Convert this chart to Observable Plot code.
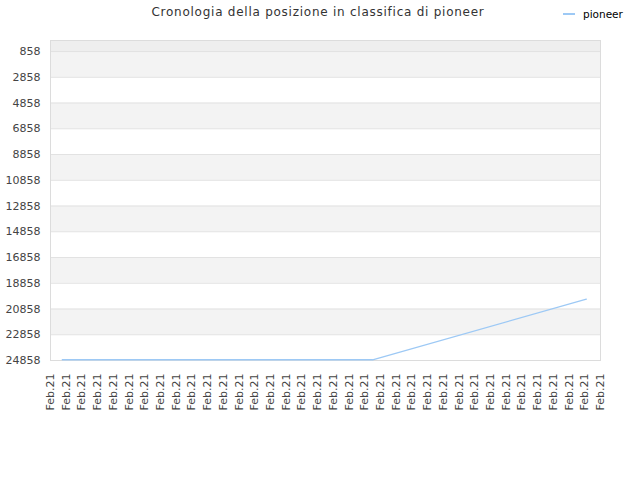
<!DOCTYPE html>
<html><head><meta charset="utf-8">
<script src="https://cdn.jsdelivr.net/npm/d3@7"></script>
<script src="https://cdn.jsdelivr.net/npm/@observablehq/plot@0.6"></script>
<style>
body{margin:0;background:#fff;font-family:"DejaVu Sans",sans-serif}
#wrap{position:relative;width:640px;height:480px}
#title{position:absolute;top:5px;left:0;width:636px;text-align:center;font-size:12px;color:#333;letter-spacing:0.75px}
#legend{position:absolute;top:8px;left:563px;font-size:10.5px;color:#000;display:flex;align-items:center}
#legend .sw{display:inline-block;width:12px;height:2px;margin-right:8px}
#chart{position:absolute;top:0;left:0}
</style></head><body>
<div id="wrap"><div id="chart"></div><div id="title"></div><div id="legend"></div></div>
<script>
const titleText = "Cronologia della posizione in classifica di pioneer";
const seriesName = "pioneer";
const seriesColor = "#9dc9f5";
// x positions (tick index units) and rank values
const dayIndex = [0.75, 20.5, 34.1];
const rank = [24800, 24800, 20100];
const xTicks = [0,1,2,3,4,5,6,7,8,9,10,11,12,13,14,15,16,17,18,19,20,21,22,23,24,25,26,27,28,29,30,31,32,33,34,35];
const xTickLabels = ["Feb.21","Feb.21","Feb.21","Feb.21","Feb.21","Feb.21","Feb.21","Feb.21","Feb.21","Feb.21","Feb.21","Feb.21","Feb.21","Feb.21","Feb.21","Feb.21","Feb.21","Feb.21","Feb.21","Feb.21","Feb.21","Feb.21","Feb.21","Feb.21","Feb.21","Feb.21","Feb.21","Feb.21","Feb.21","Feb.21","Feb.21","Feb.21","Feb.21","Feb.21","Feb.21","Feb.21"];
const yTicks = [858,2858,4858,6858,8858,10858,12858,14858,16858,18858,20858,22858,24858];
const yTop = 1;

document.getElementById("title").textContent = titleText;
document.getElementById("legend").innerHTML = `<span class="sw" style="background:${seriesColor}"></span>${seriesName}`;

const data = dayIndex.map((d, i) => ({x: d, y: rank[i]}));
const bands = [{y1: yTop, y2: yTicks[0], fill: "#eeeeee"}];
for (let i = 0; i + 1 < yTicks.length; i += 2) bands.push({y1: yTicks[i], y2: yTicks[i + 1], fill: "#f3f3f3"});

const chart = Plot.plot({
  width: 640, height: 480,
  marginTop: 40, marginBottom: 120, marginLeft: 50, marginRight: 40,
  style: {fontFamily: "DejaVu Sans, sans-serif", fontSize: "11px", color: "#444", background: "transparent"},
  x: {domain: [xTicks[0], xTicks[xTicks.length - 1]], ticks: xTicks, tickFormat: (d, i) => xTickLabels[i], tickRotate: -90, tickSize: 0, tickPadding: 13, label: null},
  y: {domain: [yTicks[yTicks.length - 1], yTop], ticks: yTicks, tickFormat: d3.format("d"), tickSize: 0, tickPadding: 10, label: null},
  marks: [
    Plot.rect(bands, {y1: "y1", y2: "y2", fill: "fill"}),
    Plot.ruleY(yTicks.slice(0, -1), {stroke: "#e2e2e2"}),
    Plot.frame({stroke: "#dcdcdc"}),
    Plot.line(data, {x: "x", y: "y", stroke: seriesColor, strokeWidth: 1.3})
  ]
});
document.getElementById("chart").appendChild(chart);
</script>
</body></html>
